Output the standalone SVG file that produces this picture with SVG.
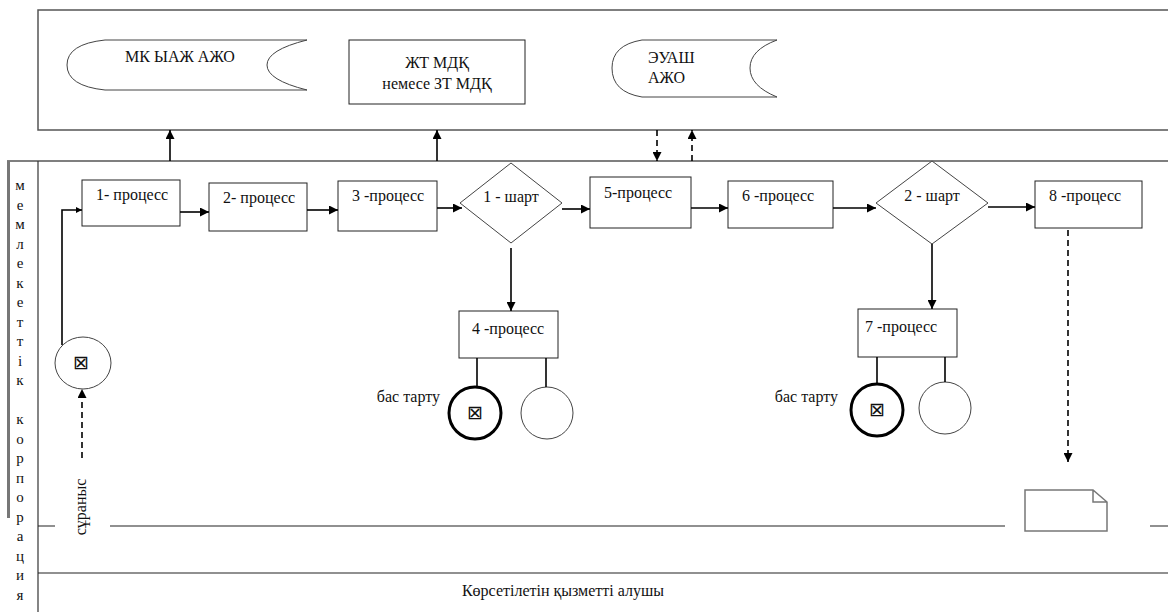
<svg xmlns="http://www.w3.org/2000/svg" width="1168" height="612" viewBox="0 0 1168 612">
<style>
text{font-family:"Liberation Serif","Times New Roman",serif;font-size:16px;fill:#111}
text.v{font-size:15px}
text.sym{font-family:"DejaVu Sans",sans-serif;font-size:19px}
.box{fill:#fff;stroke:#222;stroke-width:1}
.thin{fill:#fff;stroke:#444;stroke-width:1}
.lane{fill:none;stroke:#555;stroke-width:1.5}
.con{fill:none;stroke:#000;stroke-width:1.6}
.dash{fill:none;stroke:#000;stroke-width:1.6;stroke-dasharray:6 4}
.end{fill:#fff;stroke:#000;stroke-width:3}
</style>
<defs>
<marker id="ah" viewBox="0 0 10 10" refX="10" refY="5" markerWidth="9" markerHeight="9" markerUnits="userSpaceOnUse" orient="auto"><path d="M0,0 L10,5 L0,10 z" fill="#000"/></marker>
<marker id="ahs" viewBox="0 0 10 10" refX="10" refY="5" markerWidth="6" markerHeight="6" markerUnits="userSpaceOnUse" orient="auto"><path d="M0,0 L10,5 L0,10 z" fill="#000"/></marker>
</defs>
<rect width="1168" height="612" fill="#fff"/>
<g id="lanes">
<path class="lane" d="M1168,10 H38 V130 H1168"/>
<path class="lane" d="M7,161 H1168"/>
<line x1="8.5" y1="161" x2="8.5" y2="518" stroke="#777" stroke-width="3"/>
<line x1="38" y1="161" x2="38" y2="612" stroke="#333" stroke-width="1.2"/>
<path fill="none" stroke="#222" stroke-width="1.2" d="M38,526 H55 M110,526 H1005 M1150,526 H1168 M38,573 H1168"/>
<text class="v" x="20" y="190" text-anchor="middle">м</text>
<text class="v" x="20" y="210" text-anchor="middle">е</text>
<text class="v" x="20" y="229" text-anchor="middle">м</text>
<text class="v" x="20" y="249" text-anchor="middle">л</text>
<text class="v" x="20" y="268" text-anchor="middle">е</text>
<text class="v" x="20" y="288" text-anchor="middle">к</text>
<text class="v" x="20" y="307" text-anchor="middle">е</text>
<text class="v" x="20" y="327" text-anchor="middle">т</text>
<text class="v" x="20" y="346" text-anchor="middle">т</text>
<text class="v" x="20" y="366" text-anchor="middle">і</text>
<text class="v" x="20" y="385" text-anchor="middle">к</text>
<text class="v" x="20" y="424" text-anchor="middle">к</text>
<text class="v" x="20" y="444" text-anchor="middle">о</text>
<text class="v" x="20" y="463" text-anchor="middle">р</text>
<text class="v" x="20" y="483" text-anchor="middle">п</text>
<text class="v" x="20" y="502" text-anchor="middle">о</text>
<text class="v" x="20" y="522" text-anchor="middle">р</text>
<text class="v" x="20" y="541" text-anchor="middle">а</text>
<text class="v" x="20" y="561" text-anchor="middle">ц</text>
<text class="v" x="20" y="580" text-anchor="middle">и</text>
<text class="v" x="20" y="600" text-anchor="middle">я</text>
<text x="563" y="596" text-anchor="middle">Көрсетілетін қызметті алушы</text>
</g>
<g id="mk">
<path class="thin" d="M307,40 H105 Q67,44 67,65 Q67,86 105,90 H307 Q267,80 267,65 Q267,50 307,40 Z"/>
<text x="180" y="62" text-anchor="middle">МК ЫАЖ АЖО</text>
</g>
<g id="zhtmdk">
<rect class="box" x="349" y="40" width="176" height="64"/>
<text x="437" y="68" text-anchor="middle">ЖТ МДҚ</text>
<text x="437" y="89" text-anchor="middle">немесе ЗТ МДҚ</text>
</g>
<g id="euash">
<path class="thin" d="M777,40 H642 Q612,45 612,68 Q612,92 642,97 H777 Q750,86 750,68 Q750,50 777,40 Z"/>
<text x="648" y="63">ЭУАШ</text>
<text x="648" y="83">АЖО</text>
</g>
<g id="start">
<ellipse cx="83" cy="363" rx="28" ry="26" class="thin"/>
<text class="sym" x="81" y="369" text-anchor="middle">⊠</text>
</g>
<g id="p1"><rect class="box" x="82" y="180" width="98" height="46"/><text x="96" y="200">1- процесс</text></g>
<g id="p2"><rect class="box" x="209" y="183" width="98" height="48"/><text x="223" y="203">2- процесс</text></g>
<g id="p3"><rect class="box" x="338" y="181" width="99" height="50"/><text x="352" y="201">3 -процесс</text></g>
<g id="c1"><path class="thin" d="M511,163 L562,203 L511,243 L460,203 Z"/><text x="511" y="202" text-anchor="middle">1 - шарт</text></g>
<g id="p5"><rect class="box" x="590" y="177" width="101" height="51"/><text x="604" y="198">5-процесс</text></g>
<g id="p6"><rect class="box" x="728" y="181" width="105" height="47"/><text x="742" y="201">6 -процесс</text></g>
<g id="c2"><path class="thin" d="M932,161 L988,203 L932,244 L876,203 Z"/><text x="932" y="201" text-anchor="middle">2 - шарт</text></g>
<g id="p8"><rect class="box" x="1035" y="181" width="107" height="47"/><text x="1049" y="201">8 -процесс</text></g>
<g id="p4"><rect class="box" x="459" y="311" width="99" height="47"/><text x="472" y="334">4 -процесс</text></g>
<g id="p7"><rect class="box" x="858" y="309" width="99" height="48"/><text x="865" y="332">7 -процесс</text></g>
<g id="end4">
<circle cx="475" cy="413" r="26" class="end"/>
<text class="sym" x="475" y="419" text-anchor="middle">⊠</text>
<text x="440" y="402" text-anchor="end">бас тарту</text>
</g>
<g id="alt4"><circle cx="547" cy="413" r="26" class="thin"/></g>
<g id="end7">
<circle cx="877" cy="410" r="26" class="end"/>
<text class="sym" x="877" y="416" text-anchor="middle">⊠</text>
<text x="838" y="402" text-anchor="end">бас тарту</text>
</g>
<g id="alt7"><circle cx="945" cy="408" r="26" class="thin"/></g>
<g id="doc">
<path fill="#fff" stroke="#777" stroke-width="1.5" d="M1025,490 H1093 L1107,502 V531 H1025 Z M1093,490 V502 H1107"/>
</g>
<g id="request">
<text x="0" y="0" transform="translate(86,507) rotate(-90)" text-anchor="middle">сұраныс</text>
</g>
<g id="connectors">
<line class="con" x1="170" y1="161" x2="170" y2="130" marker-end="url(#ah)"/>
<line class="con" x1="437" y1="161" x2="437" y2="130" marker-end="url(#ah)"/>
<line class="dash" x1="657" y1="130" x2="657" y2="161" marker-end="url(#ah)"/>
<line class="dash" x1="692" y1="161" x2="692" y2="130" marker-end="url(#ah)"/>
<path class="con" stroke-width="2" d="M62,345 V210 H82" marker-end="url(#ahs)"/>
<line class="dash" x1="82" y1="458" x2="82" y2="389" marker-end="url(#ah)"/>
<line class="con" x1="180" y1="212" x2="209" y2="212" marker-end="url(#ah)"/>
<line class="con" x1="307" y1="210" x2="338" y2="210" marker-end="url(#ah)"/>
<line class="con" x1="437" y1="208" x2="462" y2="208" marker-end="url(#ah)"/>
<line class="con" x1="562" y1="209" x2="590" y2="209" marker-end="url(#ah)"/>
<line class="con" x1="511" y1="248" x2="511" y2="311" marker-end="url(#ah)"/>
<line class="con" x1="691" y1="208" x2="728" y2="208" marker-end="url(#ah)"/>
<line class="con" x1="833" y1="208" x2="876" y2="208" marker-end="url(#ah)"/>
<line class="con" x1="988" y1="207" x2="1035" y2="207" marker-end="url(#ah)"/>
<line class="con" x1="932" y1="244" x2="932" y2="309" marker-end="url(#ah)"/>
<line class="dash" x1="1068" y1="230" x2="1068" y2="462" marker-end="url(#ah)"/>
<line class="con" x1="477" y1="358" x2="477" y2="387"/>
<line class="con" x1="546" y1="358" x2="546" y2="387"/>
<line class="con" x1="877" y1="357" x2="877" y2="384"/>
<line class="con" x1="945" y1="357" x2="945" y2="382"/>
</g>
</svg>
